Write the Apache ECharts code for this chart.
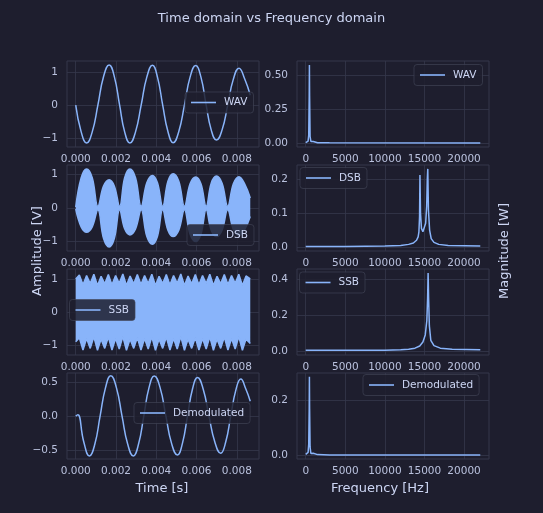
<!DOCTYPE html>
<html>
<head>
<meta charset="utf-8">
<script src="https://cdn.jsdelivr.net/npm/echarts@6/dist/echarts.min.js"></script>
<style>
html, body { margin: 0; padding: 0; background: #1e1e2e; }
#chart { width: 543px; height: 513px; }
</style>
</head>
<body>
<div id="chart"></div>
<script>
// tick labels
var timeTicks = [0, 0.002, 0.004, 0.006, 0.008];
var freqTicks = [0, 5000, 10000, 15000, 20000];
var yTicks = [
  [-1, 0, 1], [0, 0.25, 0.5],
  [-1, 0, 1], [0, 0.1, 0.2],
  [-1, 0, 1], [0, 0.2, 0.4],
  [-0.5, 0, 0.5], [0, 0.2]
];
var yDecimals = [0, 2, 0, 1, 0, 1, 1, 1];

// WAV, time domain
var wavT = [0, 0.00027, 0.00054, 0.00082, 0.00110, 0.00138, 0.00166, 0.00192, 0.00218,
  0.00243, 0.00269, 0.00297, 0.00325, 0.00353, 0.00381, 0.00406, 0.00432, 0.00458,
  0.00484, 0.00512, 0.00540, 0.00568, 0.00596, 0.00622, 0.00648, 0.00673, 0.00699,
  0.00727, 0.00755, 0.00783, 0.00811, 0.00839, 0.00867];
var wavV = [0, -0.81, -1.15, -0.81, 0, 0.86, 1.22, 0.86, 0, -0.81, -1.15, -0.81, 0, 0.85,
  1.21, 0.85, 0, -0.8, -1.14, -0.8, 0, 0.85, 1.20, 0.85, 0, -0.75, -1.06, -0.75, 0, 0.79,
  1.12, 0.8, 0.3];

// WAV, spectrum
var wavF = [0, 150, 300, 380, 440, 465, 490, 550, 650, 800, 950, 1100, 1500, 3000, 22050];
var wavMag = [0.004, 0.006, 0.015, 0.06, 0.35, 0.58, 0.35, 0.05, 0.012, 0.008, 0.012, 0.004, 0.003, 0.002, 0.001];

// DSB, time domain: upper and lower edge of the filled carrier band
var dsbT = wavT;
var dsbUp = [0.03, 0.9, 1.16, 0.9, 0.05, 0.65, 0.84, 0.65, 0.05, 0.9, 1.16, 0.9, 0.05,
  0.75, 0.97, 0.75, 0.05, 0.8, 1.02, 0.8, 0.05, 0.72, 0.92, 0.72, 0.05, 0.74, 0.95, 0.74,
  0.05, 0.72, 0.93, 0.72, 0.3];
var dsbLo = [-0.03, -0.56, -0.72, -0.56, -0.05, -0.9, -1.16, -0.9, -0.05, -0.62, -0.8,
  -0.62, -0.05, -0.84, -1.08, -0.84, -0.05, -0.66, -0.85, -0.66, -0.05, -0.78, -1.0, -0.78,
  -0.05, -0.66, -0.85, -0.66, -0.05, -0.64, -0.82, -0.64, -0.25];

// DSB, spectrum
var dsbF = [0, 5000, 10000, 12000, 13000, 13600, 14000, 14200, 14300, 14380, 14430, 14500,
  14620, 14800, 15000, 15150, 15280, 15360, 15420, 15500, 15650, 15850, 16200, 16800, 18000, 22050];
var dsbMag = [0.002, 0.002, 0.003, 0.005, 0.008, 0.012, 0.02, 0.03, 0.045, 0.09, 0.212, 0.1,
  0.055, 0.045, 0.05, 0.07, 0.12, 0.2, 0.23, 0.11, 0.05, 0.025, 0.014, 0.008, 0.005, 0.003];

// SSB, time domain: upper and lower edge of the band
var ssbT = [0, 0.00018, 0.00036, 0.00054, 0.00072, 0.0009, 0.00108, 0.00126, 0.00144,
  0.00162, 0.0018, 0.00198, 0.00216, 0.00234, 0.00252, 0.0027, 0.00288, 0.00306, 0.00324,
  0.00342, 0.0036, 0.00378, 0.00396, 0.00414, 0.00432, 0.0045, 0.00468, 0.00486, 0.00504,
  0.00522, 0.0054, 0.00558, 0.00576, 0.00594, 0.00612, 0.0063, 0.00648, 0.00666, 0.00684,
  0.00702, 0.0072, 0.00738, 0.00756, 0.00774, 0.00792, 0.0081, 0.00828, 0.00846, 0.00867];
var ssbUp = [1.0, 1.12, 0.82, 1.1, 0.86, 1.14, 0.8, 1.08, 0.85, 1.13, 0.82, 1.1, 0.87, 1.15,
  0.8, 1.09, 0.85, 1.13, 0.83, 1.1, 0.86, 1.14, 0.8, 1.08, 0.86, 1.13, 0.82, 1.1, 0.87, 1.15,
  0.8, 1.09, 0.85, 1.13, 0.82, 1.1, 0.86, 1.14, 0.8, 1.08, 0.85, 1.13, 0.83, 1.1, 0.87, 1.14,
  0.8, 1.09, 1.0];
var ssbLo = [-0.9, -0.78, -1.15, -0.8, -1.1, -0.75, -1.16, -0.82, -1.1, -0.76, -1.15, -0.8,
  -1.12, -0.74, -1.16, -0.82, -1.1, -0.77, -1.15, -0.8, -1.12, -0.75, -1.16, -0.82, -1.1,
  -0.76, -1.15, -0.8, -1.12, -0.74, -1.16, -0.82, -1.1, -0.77, -1.15, -0.8, -1.12, -0.75,
  -1.16, -0.82, -1.1, -0.76, -1.15, -0.8, -1.12, -0.74, -1.16, -0.82, -0.95];

// SSB, spectrum
var ssbF = [0, 5000, 10000, 12000, 13000, 13800, 14400, 14800, 15100, 15300, 15400, 15460,
  15520, 15620, 15800, 16200, 17000, 18500, 22050];
var ssbMag = [0.004, 0.004, 0.005, 0.007, 0.01, 0.016, 0.028, 0.05, 0.09, 0.17, 0.3, 0.435,
  0.3, 0.14, 0.06, 0.03, 0.016, 0.01, 0.007];

// Demodulated, time domain
var demT = [0, 0.0001, 0.0004, 0.00068, 0.00095, 0.00121, 0.00148, 0.00174, 0.00202,
  0.00230, 0.00258, 0.00286, 0.00312, 0.00338, 0.00364, 0.00390, 0.00419, 0.00448, 0.00476,
  0.00505, 0.0053, 0.00555, 0.0058, 0.00605, 0.00633, 0.00662, 0.00691, 0.00720, 0.00745,
  0.00770, 0.00795, 0.00820, 0.00845, 0.00867];
var demV = [0, 0.02, -0.38, -0.585, -0.41, 0, 0.42, 0.594, 0.42, 0, -0.41, -0.585, -0.41, 0,
  0.42, 0.59, 0.42, 0, -0.4, -0.57, -0.4, 0, 0.4, 0.57, 0.4, 0, -0.38, -0.545, -0.38, 0,
  0.38, 0.545, 0.4, 0.22];

// Demodulated, spectrum
var demF = [0, 150, 300, 380, 440, 465, 490, 550, 650, 800, 950, 1100, 1500, 3000, 22050];
var demMag = [0.003, 0.004, 0.01, 0.04, 0.17, 0.285, 0.17, 0.03, 0.006, 0.005, 0.007, 0.003, 0.002, 0.001, 0.001];

var TXT = '#cdd6f4';
var TICK = '#bac2de';
var GRIDC = '#35374b';
var LINE = '#89b4fa';
var FONT = '"DejaVu Sans", sans-serif';

function zip(xs, ys) {
  return xs.map(function (x, i) { return [x, ys[i]]; });
}

var chart = echarts.init(document.getElementById('chart'));

var rowTops = [61, 165, 269, 373];
var colLefts = [67, 297];
var yRanges = [
  [-1.27, 1.34], [-0.029, 0.609],
  [-1.28, 1.28], [-0.0115, 0.2415],
  [-1.3, 1.3], [-0.022, 0.457],
  [-0.63, 0.635], [-0.014, 0.299]
];

var grids = [], xAxes = [], yAxes = [];
for (var i = 0; i < 8; i++) {
  var row = Math.floor(i / 2), col = i % 2;
  grids.push({
    left: colLefts[col], top: rowTops[row], width: 192, height: 86,
    show: true, borderColor: GRIDC, borderWidth: 1, backgroundColor: 'transparent',
    outerBoundsMode: 'none'
  });
  var ticksX = col === 0 ? timeTicks : freqTicks;
  xAxes.push({
    type: 'value', gridIndex: i,
    min: col === 0 ? -0.000434 : -1102.5,
    max: col === 0 ? 0.009104 : 23152.5,
    axisLine: { show: false },
    axisTick: { show: false, customValues: ticksX },
    axisLabel: {
      customValues: ticksX, color: TICK, fontSize: 10.5, fontFamily: FONT, margin: 7,
      formatter: col === 0 ? function (v) { return v.toFixed(3); } : function (v) { return String(v); }
    },
    splitLine: { show: true, lineStyle: { color: GRIDC, width: 0.8 } }
  });
  (function (dec) {
    yAxes.push({
      type: 'value', gridIndex: i,
      min: yRanges[i][0], max: yRanges[i][1],
      axisLine: { show: false },
      axisTick: { show: false, customValues: yTicks[i] },
      axisLabel: {
        customValues: yTicks[i], color: TICK, fontSize: 10.5, fontFamily: FONT, margin: 9,
        formatter: function (v) { return v.toFixed(dec).replace('-', '\u2212'); }
      },
      splitLine: { show: true, lineStyle: { color: GRIDC, width: 0.8 } }
    });
  })(yDecimals[i]);
}

function lineSeries(name, idx, data, smooth) {
  return {
    name: name, type: 'line', xAxisIndex: idx, yAxisIndex: idx,
    data: data, showSymbol: false, symbol: 'none', smooth: smooth || false,
    lineStyle: { color: LINE, width: 1.5 }, itemStyle: { color: LINE },
    animation: false, silent: true
  };
}

// the band always straddles zero, so each edge is filled towards zero
function bandSeries(name, idx, t, up, lo, smooth) {
  var upper = lineSeries(name, idx, zip(t, up), smooth);
  upper.areaStyle = { color: LINE, opacity: 1, origin: 0 };
  var lower = lineSeries(name + ' lower', idx, zip(t, lo), smooth);
  lower.areaStyle = { color: LINE, opacity: 1, origin: 0 };
  return [upper, lower];
}

var series = [];
series.push(lineSeries('WAV', 0, zip(wavT, wavV), 0.5));
series.push(lineSeries('WAV', 1, zip(wavF, wavMag)));
series = series.concat(bandSeries('DSB', 2, dsbT, dsbUp, dsbLo, 0.4));
series.push(lineSeries('DSB', 3, zip(dsbF, dsbMag)));
series = series.concat(bandSeries('SSB', 4, ssbT, ssbUp, ssbLo, false));
series.push(lineSeries('SSB', 5, zip(ssbF, ssbMag)));
series.push(lineSeries('Demodulated', 6, zip(demT, demV), 0.5));
series.push(lineSeries('Demodulated', 7, zip(demF, demMag)));

var legendSpots = [
  ['WAV', 185, 92], ['WAV', 414, 64.5],
  ['DSB', 187, 224.5], ['DSB', 300, 167.5],
  ['SSB', 69.5, 299.5], ['SSB', 299.5, 272],
  ['Demodulated', 134, 402.5], ['Demodulated', 363, 374.5]
];
var legends = legendSpots.map(function (s) {
  return {
    data: [{ name: s[0], icon: 'rect' }], left: s[1], top: s[2],
    itemWidth: 25, itemHeight: 1.6, padding: [5, 6],
    backgroundColor: 'rgba(30,30,46,0.85)', borderColor: 'rgba(69,71,90,0.6)',
    borderWidth: 1, borderRadius: 3, selectedMode: false,
    itemStyle: { color: LINE },
    textStyle: { color: TXT, fontSize: 10.5, fontFamily: FONT, padding: [0, 0, 0, 3] }
  };
});

var option = {
  backgroundColor: '#1e1e2e',
  animation: false,
  title: {
    text: 'Time domain vs Frequency domain', left: 'center', top: 7,
    textStyle: { color: TXT, fontSize: 13, fontWeight: 'normal', fontFamily: FONT }
  },
  legend: legends,
  grid: grids,
  xAxis: xAxes,
  yAxis: yAxes,
  series: series,
  graphic: [
    { type: 'text', x: 162, y: 489, style: { text: 'Time [s]', fill: TXT, font: '13px ' + FONT, align: 'center', verticalAlign: 'middle' } },
    { type: 'text', x: 380, y: 489, style: { text: 'Frequency [Hz]', fill: TXT, font: '13px ' + FONT, align: 'center', verticalAlign: 'middle' } },
    { type: 'text', x: 38, y: 251, rotation: Math.PI / 2, style: { text: 'Amplitude [V]', fill: TXT, font: '13px ' + FONT, align: 'center', verticalAlign: 'middle' } },
    { type: 'text', x: 505, y: 251, rotation: Math.PI / 2, style: { text: 'Magnitude [W]', fill: TXT, font: '13px ' + FONT, align: 'center', verticalAlign: 'middle' } }
  ]
};
chart.setOption(option);
</script>
</body>
</html>
